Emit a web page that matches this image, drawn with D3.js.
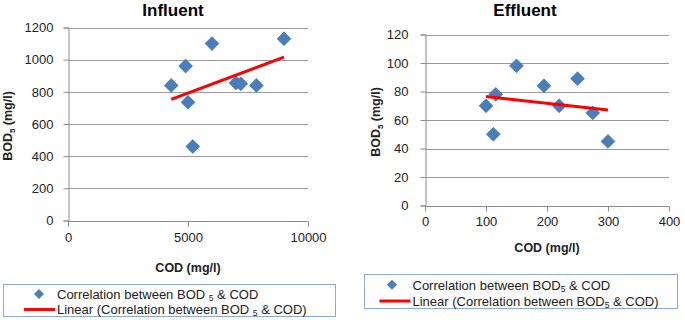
<!DOCTYPE html>
<html>
<head>
<meta charset="utf-8">
<script src="https://cdn.jsdelivr.net/npm/d3@7"></script>
<style>
  body { margin: 0; background: #fff; }
  svg { display: block; font-family: "Liberation Sans", Arial, sans-serif; }
</style>
</head>
<body>
<div id="chart"></div>
<script>
// influent samples (COD vs BOD5, mg/l)
var influentCOD = [4300, 4900, 5000, 5200, 6000, 7000, 7200, 7850, 9000];
var influentBOD = [840, 960, 735, 460, 1100, 855, 850, 840, 1130];
var influentXTicks = [0, 5000, 10000];
var influentYTicks = [0, 200, 400, 600, 800, 1000, 1200];

// effluent samples
var effluentCOD = [100, 112, 116, 150, 195, 220, 250, 275, 300];
var effluentBOD = [70, 50, 78, 98, 84, 70, 89, 65, 45];
var effluentXTicks = [0, 100, 200, 300, 400];
var effluentYTicks = [0, 20, 40, 60, 80, 100, 120];

var svg = d3.select("#chart").append("svg")
    .attr("width", 685)
    .attr("height", 320);

drawPanel({
    title: "Influent", xs: influentCOD, ys: influentBOD,
    xTicks: influentXTicks, yTicks: influentYTicks,
    left: 68, right: 308, top: 27.5, bottom: 220.5,
    titleX: 173, titleY: 16,
    yTitleX: 12, xTitleY: 272, xLabelY: 245, yPad: 10,
    legend: { x: 3.5, y: 284.5, w: 332, h: 32, space: true }
});

drawPanel({
    title: "Effluent", xs: effluentCOD, ys: effluentBOD,
    xTicks: effluentXTicks, yTicks: effluentYTicks,
    left: 425, right: 669, top: 34.5, bottom: 205.5,
    titleX: 525, titleY: 16,
    yTitleX: 380, xTitleY: 252, xLabelY: 229, yPad: 12,
    legend: { x: 364.5, y: 274.5, w: 313, h: 34, space: false }
});

function drawPanel(o) {
    var x = d3.scaleLinear()
        .domain(d3.extent(o.xTicks))
        .range([o.left, o.right]);
    var y = d3.scaleLinear()
        .domain(d3.extent(o.yTicks))
        .range([o.bottom, o.top]);

    var g = svg.append("g");

    // horizontal gridlines
    g.selectAll(".grid")
        .data(o.yTicks.slice(1))
        .enter().append("line")
        .attr("x1", o.left).attr("x2", o.right)
        .attr("y1", function (d) { return Math.round(y(d)) + 0.5; })
        .attr("y2", function (d) { return Math.round(y(d)) + 0.5; })
        .attr("stroke", "#9a9a9a");

    var xAxis = d3.axisBottom(x)
        .tickValues(o.xTicks)
        .tickSize(5)
        .tickPadding(7)
        .tickFormat(d3.format("d"));
    var yAxis = d3.axisLeft(y)
        .tickValues(o.yTicks)
        .tickSize(5)
        .tickPadding(o.yPad)
        .tickFormat(d3.format("d"));

    var gx = g.append("g")
        .attr("transform", "translate(0," + (Math.round(o.bottom) + 0.5) + ")")
        .call(xAxis);
    var gy = g.append("g")
        .attr("transform", "translate(" + (Math.round(o.left) + 0.5) + ",0)")
        .call(yAxis);

    [gx, gy].forEach(function (a) {
        a.select(".domain").attr("stroke", "#8c8c8c");
        a.selectAll(".tick line").attr("stroke", "#8c8c8c");
        a.selectAll(".tick text")
            .attr("fill", "#222")
            .style("font-size", "13px")
            .style("font-family", "'Liberation Sans', Arial, sans-serif");
    });
    gx.select(".domain").attr("d", "M" + o.left + ",0H" + o.right);
    gx.selectAll(".tick text").attr("y", o.xLabelY - o.bottom - 4).attr("dy", 0);

    // points
    var pts = o.xs.map(function (v, i) { return [v, o.ys[i]]; });
    g.selectAll(".pt")
        .data(pts)
        .enter().append("path")
        .attr("d", d3.symbol(d3.symbolSquare, 96))
        .attr("transform", function (d) {
            return "translate(" + x(d[0]) + "," + y(d[1]) + ") rotate(45)";
        })
        .attr("fill", "#4a7ebb")
        .attr("stroke", "#3b69a3")
        .attr("stroke-width", 0.6);

    // least squares trendline (drawn over the markers)
    var mx = d3.mean(o.xs), my = d3.mean(o.ys);
    var sxy = d3.sum(o.xs, function (v, i) { return (v - mx) * (o.ys[i] - my); });
    var sxx = d3.sum(o.xs, function (v) { return (v - mx) * (v - mx); });
    var slope = sxy / sxx, icpt = my - slope * mx;
    var ext = d3.extent(o.xs);
    g.append("line")
        .attr("x1", x(ext[0])).attr("y1", y(icpt + slope * ext[0]))
        .attr("x2", x(ext[1])).attr("y2", y(icpt + slope * ext[1]))
        .attr("stroke", "#ff0000")
        .attr("stroke-width", 3);

    // titles
    g.append("text")
        .attr("x", o.titleX).attr("y", o.titleY)
        .attr("text-anchor", "middle")
        .attr("font-weight", "bold")
        .attr("font-size", "17px")
        .attr("fill", "#000")
        .text(o.title);

    g.append("text")
        .attr("x", (o.left + o.right) / 2).attr("y", o.xTitleY)
        .attr("text-anchor", "middle")
        .attr("font-weight", "bold")
        .attr("font-size", "12.5px")
        .attr("fill", "#222")
        .text("COD (mg/l)");

    var yt = g.append("text")
        .attr("transform", "translate(" + o.yTitleX + "," + ((o.top + o.bottom) / 2 + 2) + ") rotate(-90)")
        .attr("text-anchor", "middle")
        .attr("font-weight", "bold")
        .attr("font-size", "12.5px")
        .attr("fill", "#222");
    yt.append("tspan").text("BOD");
    yt.append("tspan").attr("dy", 3).attr("font-size", "8px").text("5");
    yt.append("tspan").attr("dy", -3).text(" (mg/l)");

    // legend
    var L = o.legend;
    var lg = svg.append("g");
    lg.append("rect")
        .attr("x", L.x).attr("y", L.y)
        .attr("width", L.w).attr("height", L.h)
        .attr("fill", "#fff")
        .attr("stroke", "#8eaadb");

    var row1 = L.y + L.h * 0.3, row2 = L.y + L.h * 0.78;
    var textX = L.x + (L.space ? 53.5 : 48);
    var symX = L.x + (L.space ? 35.5 : 27.5);

    lg.append("path")
        .attr("d", d3.symbol(d3.symbolSquare, 50))
        .attr("transform", "translate(" + symX + "," + row1 + ") rotate(45)")
        .attr("fill", "#4a7ebb");
    lg.append("line")
        .attr("x1", textX - 33).attr("x2", textX - 2)
        .attr("y1", row2).attr("y2", row2)
        .attr("stroke", "#ff0000")
        .attr("stroke-width", 3);

    var labels = [
        ["Correlation between BOD", (L.space ? " " : ""), "5", " & COD"],
        ["Linear (Correlation between BOD", (L.space ? " " : ""), "5", " & COD)"]
    ];
    [row1, row2].forEach(function (ry, i) {
        var t = lg.append("text")
            .attr("x", textX).attr("y", ry + 5)
            .attr("font-size", "13px")
            .attr("fill", "#222");
        t.append("tspan").text(labels[i][0] + labels[i][1]);
        t.append("tspan").attr("dy", 2).attr("font-size", "8.5px").text(labels[i][2]);
        t.append("tspan").attr("dy", -2).text(labels[i][3]);
    });
}
</script>
</body>
</html>
